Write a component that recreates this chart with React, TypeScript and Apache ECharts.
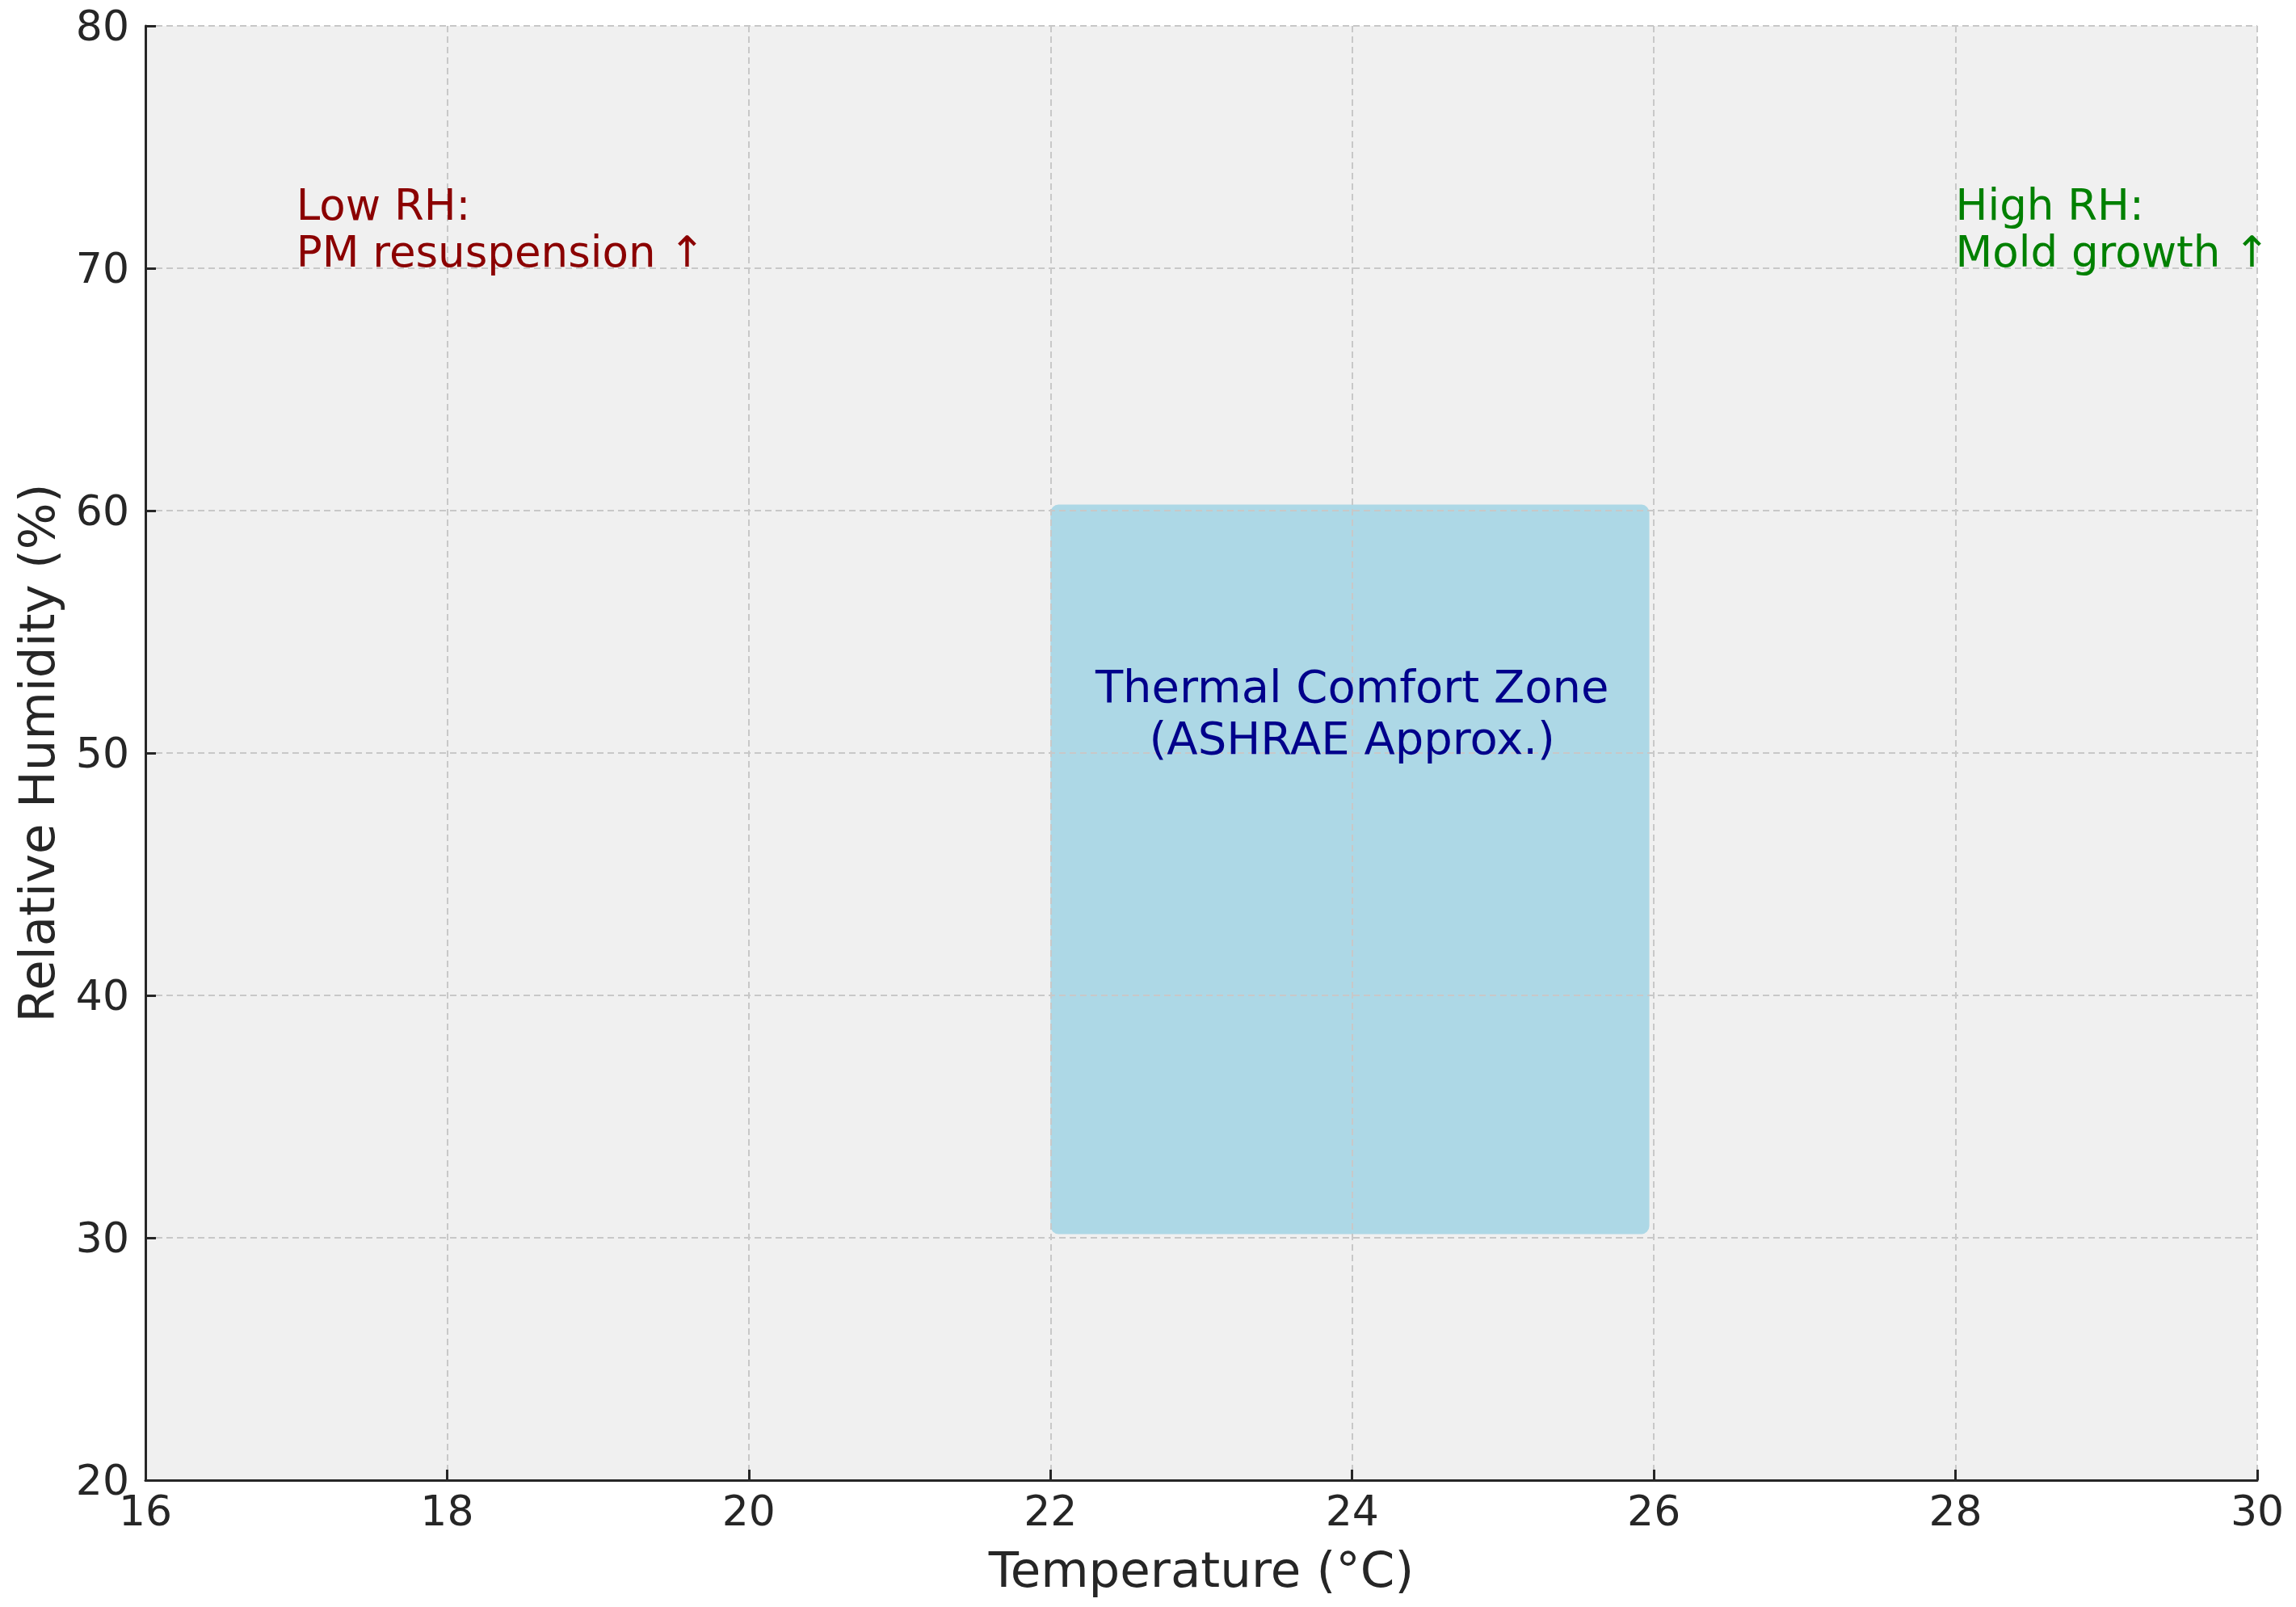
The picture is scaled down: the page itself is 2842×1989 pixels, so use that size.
import React, { useEffect, useRef } from "react";
import * as echarts from "echarts";

// Axis ranges / ticks
const xRange = [16, 30];
const xStep = 2;
const yRange = [20, 80];
const yStep = 10;

// Comfort zone box (temperature °C, relative humidity %)
const zoneTemp = [22, 25.97];
const zoneRH = [30.15, 60.25];
const zoneLabel = "Thermal Comfort Zone\n(ASHRAE Approx.)";
const zoneLabelPos = [24, 51.7];

// Annotations
const annotTexts = ["Low RH:\nPM resuspension ↑", "High RH:\nMold growth ↑"];
const annotTemp = [17, 28];
const annotRH = [70, 70];
const annotColors = ["#8B0000", "#008000"];

const FONT = "'DejaVu Sans', 'Liberation Sans', sans-serif";
const INK = "#262626";

export default function App() {
  const ref = useRef<HTMLDivElement>(null);

  useEffect(() => {
    if (!ref.current) return;
    const chart = echarts.init(ref.current, undefined, { renderer: "svg" });

    const axisCommon = {
      type: "value",
      axisLine: { show: true, onZero: false, lineStyle: { color: INK, width: 3 } },
      axisTick: { show: true, inside: true, length: 13, lineStyle: { color: INK, width: 3 } },
      splitLine: { show: true, lineStyle: { type: [8, 5], color: "#c8c8c8", width: 2 } },
      nameLocation: "middle",
      z: 0,
    };

    const option = {
      animation: false,
      grid: {
        show: true,
        left: 180,
        right: 48,
        top: 32,
        bottom: 157,
        backgroundColor: "#F0F0F0",
        borderWidth: 0,
        z: -10,
      },
      xAxis: {
        ...axisCommon,
        min: xRange[0],
        max: xRange[1],
        interval: xStep,
        axisLabel: { fontSize: 52, color: INK, margin: 12, fontFamily: FONT },
        name: "Temperature (°C)",
        nameGap: 80,
        nameTextStyle: { fontSize: 61, color: INK, fontFamily: FONT },
      },
      yAxis: {
        ...axisCommon,
        min: yRange[0],
        max: yRange[1],
        interval: yStep,
        axisLabel: { fontSize: 52, color: INK, margin: 20, fontFamily: FONT },
        name: "Relative Humidity (%)",
        nameGap: 104,
        nameTextStyle: { fontSize: 61, color: INK, fontFamily: FONT },
      },
      series: [
        {
          type: "custom",
          z: -5,
          clip: false,
          silent: true,
          data: [[zoneTemp[0], zoneRH[1], zoneTemp[1], zoneRH[0]]],
          encode: { x: [0, 2], y: [1, 3] },
          renderItem: (_params: any, api: any) => {
            const p0 = api.coord([api.value(0), api.value(1)]);
            const p1 = api.coord([api.value(2), api.value(3)]);
            return {
              type: "rect",
              shape: { x: p0[0], y: p0[1], width: p1[0] - p0[0], height: p1[1] - p0[1], r: 10 },
              style: { fill: "#ADD8E6" },
            };
          },
        },
        {
          type: "custom",
          z: 10,
          clip: false,
          silent: true,
          data: [[zoneLabelPos[0], zoneLabelPos[1]]],
          renderItem: (_params: any, api: any) => {
            const p = api.coord([api.value(0), api.value(1)]);
            return {
              type: "text",
              x: p[0],
              y: p[1],
              style: {
                text: zoneLabel,
                fill: "#00008B",
                fontSize: 56,
                fontFamily: FONT,
                align: "center",
                verticalAlign: "middle",
                lineHeight: 64,
              },
            };
          },
        },
        {
          type: "custom",
          z: 10,
          clip: false,
          silent: true,
          data: annotTexts.map((_, i) => [annotTemp[i], annotRH[i], i]),
          renderItem: (_params: any, api: any) => {
            const p = api.coord([api.value(0), api.value(1)]);
            const i = api.value(2);
            return {
              type: "text",
              x: p[0],
              y: p[1] + 8,
              style: {
                text: annotTexts[i],
                fill: annotColors[i],
                fontSize: 53,
                fontFamily: FONT,
                align: "left",
                verticalAlign: "bottom",
                lineHeight: 58,
              },
            };
          },
        },
      ],
    };

    chart.setOption(option as any);
    return () => chart.dispose();
  }, []);

  return (
    <div
      ref={ref}
      style={{ position: "absolute", left: 0, top: 0, width: 2842, height: 1989, background: "#ffffff" }}
    />
  );
}
